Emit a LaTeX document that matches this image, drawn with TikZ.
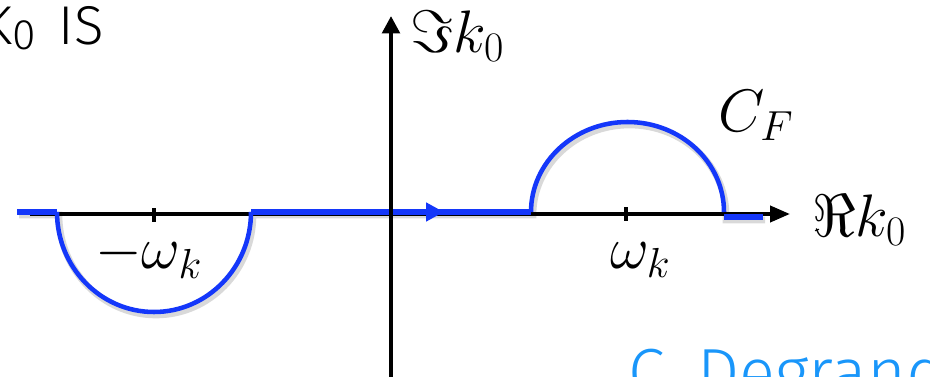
\documentclass[tikz,border=0pt]{standalone}
\usepackage{fix-cm}
\usepackage{fontspec}
\newfontfamily\lightsf{Fira Sans}[UprightFont={* Light}]
\usetikzlibrary{arrows.meta}
\definecolor{cblue}{RGB}{20,55,250}
\definecolor{sigblue}{RGB}{25,150,250}
\begin{document}
\begin{tikzpicture}[x=0.75pt,y=-0.75pt,
  axis/.style={line width=3pt,-{Triangle[length=15pt,width=12pt]}},
  vaxis/.style={line width=3.1pt,-{Triangle[length=13pt,width=13pt]}},
  contour/.style={draw=cblue,line width=3.8pt},
  arcline/.style={draw=cblue,line width=3.4pt},
  shadowline/.style={draw=black,opacity=0.15,line width=5pt},
  tickmark/.style={line width=3pt},
  lab/.style={inner sep=0pt,font=\fontsize{45}{50}\selectfont},
  sftext/.style={inner sep=0pt,font=\lightsf\fontsize{41}{48}\selectfont}]
\useasboundingbox (0,0) rectangle (930,377);
% coordinates
\coordinate (hstart) at (30,214);
\coordinate (hend) at (790,214);
\coordinate (vstart) at (391,380);
\coordinate (vend) at (391,16);
\coordinate (tl) at (154,215);
\coordinate (tr) at (626,214);
% horizontal axis
\draw[axis] (hstart) -- (hend);
% shadow of contour
\begin{scope}[shift={(2,3)}]
\draw[shadowline] (17,212) -- (57,212)
  arc[start angle=180,end angle=0,x radius=97,y radius=100]
  -- (531,212)
  arc[start angle=180,end angle=360,x radius=96.5,y radius=90]
  -- (724,217) -- (763,217);
\end{scope}
% contour
\draw[contour] (17,212) -- (57,212);
\draw[arcline] (57,212) arc[start angle=180,end angle=0,x radius=97,y radius=100];
\draw[contour] (251,212) -- (531,212);
\draw[arcline] (531,212) arc[start angle=180,end angle=360,x radius=96.5,y radius=90];
\draw[contour] (724,217) -- (763,217);
\draw[contour,-{Triangle[length=13.5pt,width=13.5pt]}] (380,212) -- (444,212);
% vertical axis
\draw[vaxis] (vstart) -- (vend);
% ticks
\draw[tickmark] ([yshift=5.2pt]tl) -- ([yshift=-5.2pt]tl);
\draw[tickmark] ([yshift=5.2pt]tr) -- ([yshift=-5.2pt]tr);
% labels
\node[lab,anchor=base west] (im) at (410,53) {$\Im k_0$};
\node[lab,anchor=base west] (re) at (812,237) {$\Re k_0$};
\node[lab,anchor=base west] (cf) at (718,132) {$C_F$};
\node[lab,anchor=base west] (mw) at (95,269) {$-\omega_k$};
\node[lab,anchor=base west] (pw) at (610,268) {$\omega_k$};
\node[sftext,anchor=base east] (title) at (104,45) {K\raisebox{-3.5pt}{\fontsize{32}{32}\selectfont 0}\hspace{6pt} IS};
\node[inner sep=0pt,anchor=base west,text=sigblue,font=\lightsf\fontsize{50}{54}\selectfont] (sig) at (628,395) {C. Degrand};
\end{tikzpicture}
\end{document}
